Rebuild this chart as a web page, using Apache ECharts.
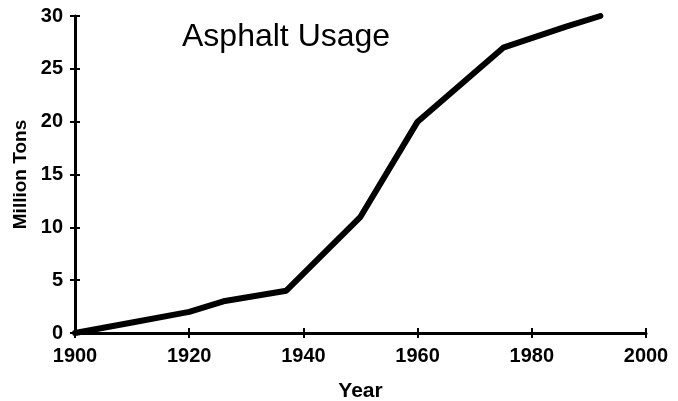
<!DOCTYPE html>
<html><head><meta charset="utf-8">
<script src="https://cdn.jsdelivr.net/npm/echarts@6/dist/echarts.min.js"></script>
<style>html,body{margin:0;padding:0;background:#fff}#c{width:678px;height:401px}</style>
</head><body><div id="c"></div>
<script>
const years = [1900, 1910, 1920, 1926, 1937, 1950, 1960, 1975, 1986, 1992];
const tons = [0, 1, 2, 3, 4, 11, 20, 27, 29, 30];
const title = 'Asphalt Usage';
const xName = 'Year';
const yName = 'Million Tons';

const chart = echarts.init(document.getElementById('c'), null, {renderer: 'canvas'});
const font = 'Liberation Sans, Arial, sans-serif';
const lbl = {color: '#000', fontFamily: font, fontWeight: 'bold', fontSize: 20};
const axLine = {show: true, lineStyle: {color: '#000', width: 3}};
const tick = (inside) => ({show: true, inside: inside, length: 5, lineStyle: {color: '#000', width: 2}});
chart.setOption({
  animation: false,
  backgroundColor: '#fff',
  title: {text: title, left: 177, top: 16, textStyle: {fontFamily: font, fontWeight: 'normal', fontSize: 32, color: '#000'}},
  grid: {left: 75, right: 32, top: 16, bottom: 68, outerBoundsMode: 'none', containLabel: false},
  xAxis: [
    {type: 'value', min: 1900, max: 2000, interval: 20, name: xName, nameLocation: 'middle', nameGap: 48,
     nameTextStyle: {color: '#000', fontFamily: font, fontWeight: 'bold', fontSize: 21},
     axisLine: axLine, axisTick: tick(false), splitLine: {show: false},
     axisLabel: Object.assign({margin: 13, formatter: (v) => String(v)}, lbl)},
    {type: 'value', min: 1900, max: 2000, interval: 20, position: 'bottom', axisLine: {show: false},
     axisTick: tick(true), axisLabel: {show: false}, splitLine: {show: false}}
  ],
  yAxis: [
    {type: 'value', min: 0, max: 30, interval: 5, name: yName, nameLocation: 'middle', nameGap: 45,
     nameTextStyle: {color: '#000', fontFamily: font, fontWeight: 'bold', fontSize: 19},
     axisLine: axLine, axisTick: tick(false), splitLine: {show: false},
     axisLabel: Object.assign({margin: 12}, lbl)},
    {type: 'value', min: 0, max: 30, interval: 5, position: 'left', axisLine: {show: false},
     axisTick: tick(true), axisLabel: {show: false}, splitLine: {show: false}}
  ],
  series: [{
    type: 'line', data: years.map((y, i) => [y, tons[i]]), showSymbol: false,
    lineStyle: {color: '#000', width: 6, join: 'round', cap: 'round'}
  }]
});
</script></body></html>
